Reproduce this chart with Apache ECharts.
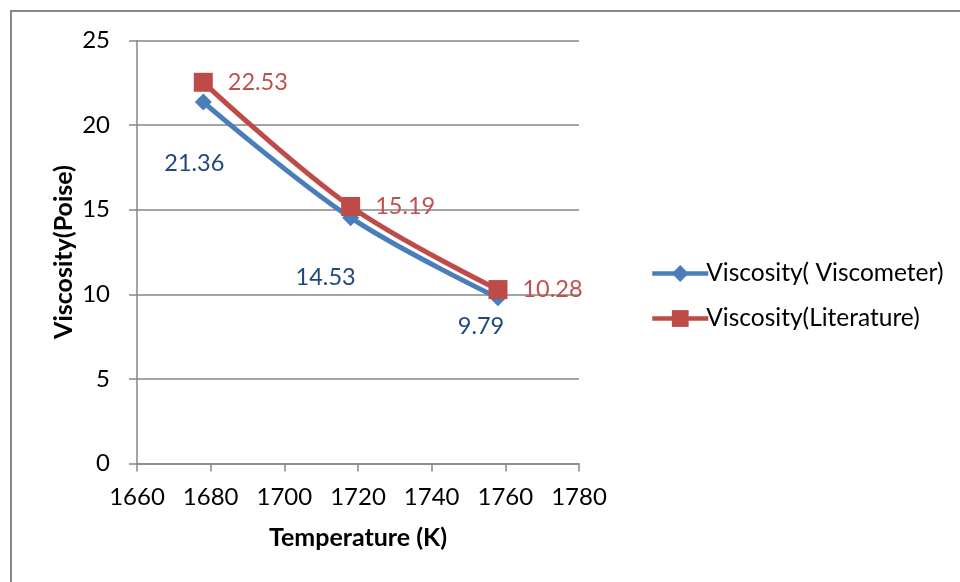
<!DOCTYPE html>
<html>
<head>
<meta charset="utf-8">
<script src="https://cdn.jsdelivr.net/npm/echarts@6/dist/echarts.min.js"></script>
<style>
  html, body { margin: 0; padding: 0; background: #fff; }
  #chart { width: 960px; height: 582px; }
</style>
</head>
<body>
<div id="chart"></div>
<script>
// Measured viscosity against temperature
const temperatures = [1678, 1718, 1758];
const viscometerValues = [21.36, 14.53, 9.79];
const literatureValues = [22.53, 15.19, 10.28];
const seriesNames = ['Viscosity( Viscometer)', 'Viscosity(Literature)'];

// where each viscometer label sits relative to its point
const viscometerLabelShift = [[-9, 61], [-25, 60], [-17, 29]];

const FONT = 'Lato, "Noto Sans", sans-serif';
const AXIS_GREY = '#868686';
const BLUE = '#4A7EBB';
const RED = '#BE4B48';

const chart = echarts.init(document.getElementById('chart'), null, { renderer: 'canvas' });

chart.setOption({
  backgroundColor: '#ffffff',
  animation: false,
  textStyle: { fontFamily: FONT },
  graphic: [{
    type: 'rect',
    shape: { x: 11, y: 11, width: 1000, height: 1000 },
    style: { fill: 'none', stroke: '#878787', lineWidth: 2 },
    silent: true
  }],
  grid: { left: 137, right: 381, top: 40.5, bottom: 118.5, containLabel: false },
  legend: {
    orient: 'vertical',
    left: 645,
    top: 256,
    itemWidth: 56,
    itemHeight: 21,
    itemGap: 20,
    lineStyle: { width: 4.5 },
    textStyle: { fontFamily: FONT, fontSize: 24.5, color: '#000', padding: [0, 0, 0, -7] },
    data: seriesNames
  },
  xAxis: {
    type: 'value',
    min: 1660,
    max: 1780,
    interval: 20,
    name: 'Temperature (K)',
    nameLocation: 'middle',
    nameGap: 62,
    nameTextStyle: { fontFamily: FONT, fontSize: 25, fontWeight: 'bold', color: '#000' },
    axisLine: { show: true, lineStyle: { color: AXIS_GREY, width: 1.5 } },
    axisTick: { show: true, length: 8, lineStyle: { color: AXIS_GREY, width: 1.5 } },
    axisLabel: { fontFamily: FONT, fontSize: 24, color: '#000', margin: 22, formatter: v => String(v) },
    splitLine: { show: false }
  },
  yAxis: {
    type: 'value',
    min: 0,
    max: 25,
    interval: 5,
    name: 'Viscosity(Poise)',
    nameLocation: 'middle',
    nameRotate: 90,
    nameGap: 61,
    nameTextStyle: { fontFamily: FONT, fontSize: 25, fontWeight: 'bold', color: '#000' },
    axisLine: { show: true, lineStyle: { color: AXIS_GREY, width: 1.5 } },
    axisTick: { show: true, length: 8, lineStyle: { color: AXIS_GREY, width: 1.5 } },
    axisLabel: { fontFamily: FONT, fontSize: 24, color: '#000', margin: 27 },
    splitLine: { show: true, lineStyle: { color: AXIS_GREY, width: 1.5 } }
  },
  series: [
    {
      name: seriesNames[0],
      type: 'line',
      smooth: 0.35,
      symbol: 'diamond',
      symbolSize: 17,
      lineStyle: { color: BLUE, width: 5 },
      itemStyle: { color: BLUE },
      label: {
        show: true,
        position: 'inside',
        fontFamily: FONT,
        fontSize: 23.5,
        color: '#1F497D'
      },
      data: temperatures.map((t, i) => ({
        value: [t, viscometerValues[i]],
        label: { offset: viscometerLabelShift[i] }
      })),
      z: 2
    },
    {
      name: seriesNames[1],
      type: 'line',
      smooth: 0.35,
      symbol: 'rect',
      symbolSize: 19,
      lineStyle: { color: RED, width: 5 },
      itemStyle: { color: RED },
      label: {
        show: true,
        position: 'right',
        distance: 15,
        fontFamily: FONT,
        fontSize: 23.5,
        color: '#C0504D'
      },
      data: temperatures.map((t, i) => [t, literatureValues[i]]),
      z: 3
    }
  ]
});
</script>
</body>
</html>
